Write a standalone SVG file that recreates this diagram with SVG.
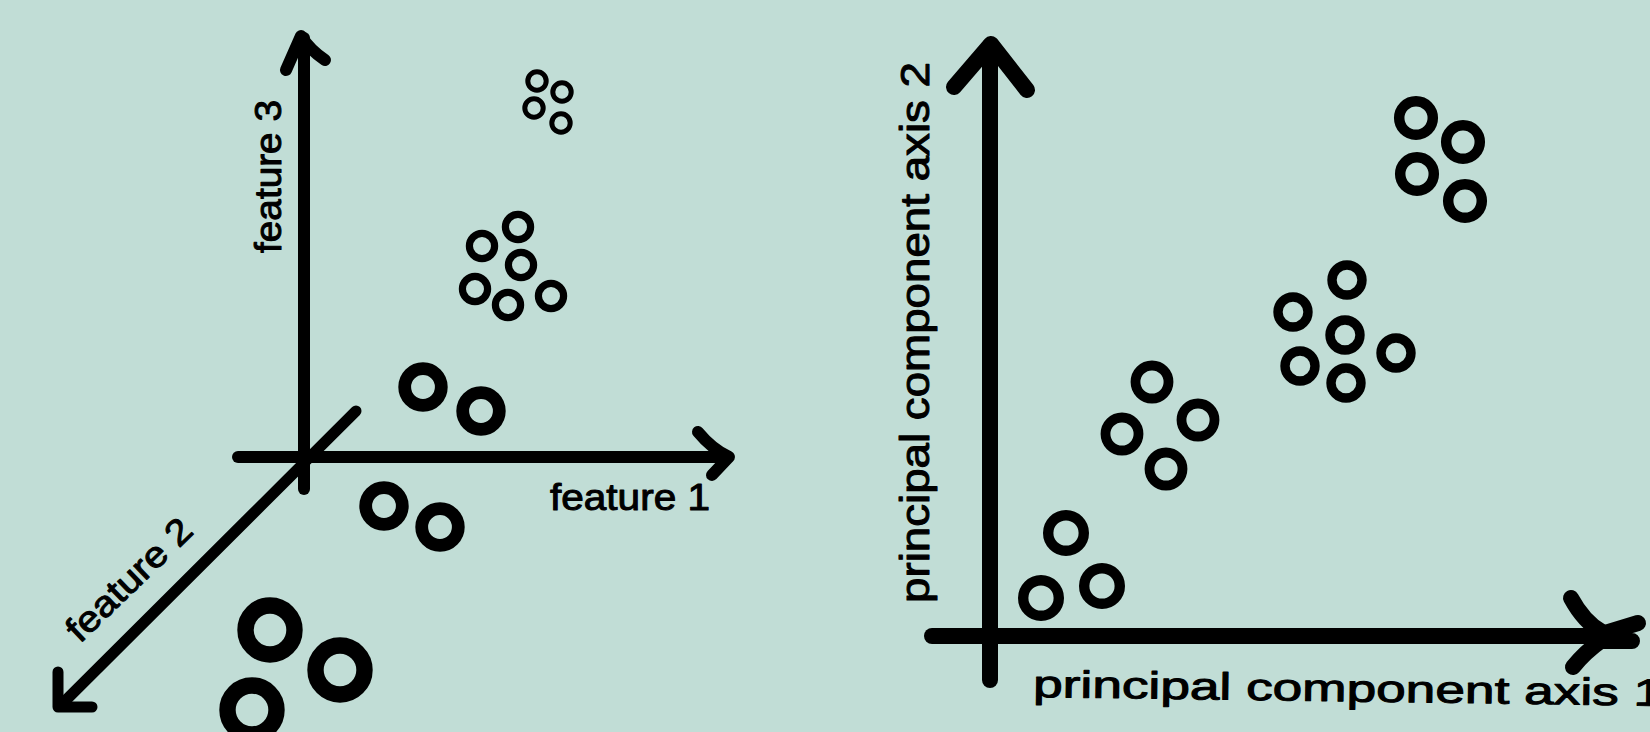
<svg xmlns="http://www.w3.org/2000/svg" width="1650" height="732" viewBox="0 0 1650 732">
<style>
.ax{fill:none;stroke:#000;stroke-linecap:round;stroke-linejoin:round}
.p{fill:none;stroke:#000}
.lbl{font-family:"Liberation Sans",Arial,sans-serif;font-weight:normal;fill:#000;stroke:#000;stroke-width:1;stroke-linejoin:round}
</style>
<rect width="1650" height="732" fill="#c1ddd6"/>
<g id="connectors">
  <g id="left-axes" class="ax" stroke-width="12">
    <path d="M304,38 V489"/>
    <path d="M286,70 L301,36 Q310,50 325,60"/>
    <path d="M238,457 H728"/>
    <path d="M698,432 Q712,449 729,457 L712,475"/>
    <path d="M356,411 L60,706" stroke-width="11"/>
    <path d="M58,672 V707 H92" stroke-width="11"/>
  </g>
  <g id="right-axes" class="ax" stroke-width="16">
    <path d="M990,46 V680"/>
    <path d="M954,87 L991,44 L1027,90"/>
    <path d="M932,636 H1600"/>
    <path d="M1571,598 Q1584,622 1602,632 M1602,640 Q1585,652 1573,667"/>
    <path d="M1602,634 L1638,623 M1602,641 L1632,641"/>
  </g>
</g>
<g id="left-points">
  <g id="cluster-xs" class="p" stroke-width="5">
    <circle cx="537" cy="81" r="9.2"/><circle cx="562" cy="92" r="9.2"/>
    <circle cx="534" cy="108" r="9.2"/><circle cx="561" cy="123" r="9.2"/>
  </g>
  <g id="cluster-s" class="p" stroke-width="7.2">
    <circle cx="518" cy="227" r="12.6"/><circle cx="482" cy="246" r="12.6"/>
    <circle cx="521" cy="265" r="12.6"/><circle cx="475" cy="289" r="12.6"/>
    <circle cx="508" cy="305" r="12.6"/><circle cx="551" cy="296" r="12.6"/>
  </g>
  <g id="cluster-m" class="p" stroke-width="12.8">
    <circle cx="423" cy="387" r="18.3"/><circle cx="481" cy="411" r="18.3"/>
    <circle cx="384" cy="506" r="18.3"/><circle cx="440" cy="527" r="18.3"/>
  </g>
  <g id="cluster-l" class="p" stroke-width="16.4">
    <circle cx="270" cy="630" r="24.5"/><circle cx="340" cy="670" r="24.5"/>
    <circle cx="252" cy="710" r="24.5"/>
  </g>
</g>
<g id="right-points">
  <g id="cluster-r1" class="p" stroke-width="10.4">
    <circle cx="1066" cy="533" r="17.8"/><circle cx="1102" cy="586" r="17.8"/>
    <circle cx="1041" cy="598" r="17.8"/>
  </g>
  <g id="cluster-r2" class="p" stroke-width="9.8">
    <circle cx="1152" cy="382" r="16.5"/><circle cx="1198" cy="420" r="16.5"/>
    <circle cx="1122" cy="434" r="16.5"/><circle cx="1166" cy="469" r="16.5"/>
  </g>
  <g id="cluster-r3" class="p" stroke-width="9.4">
    <circle cx="1347" cy="280" r="15"/><circle cx="1293" cy="312" r="15"/>
    <circle cx="1345" cy="335" r="15"/><circle cx="1396" cy="353" r="15"/>
    <circle cx="1300" cy="366" r="15"/><circle cx="1346" cy="383" r="15"/>
  </g>
  <g id="cluster-r4" class="p" stroke-width="10.5">
    <circle cx="1416" cy="118" r="16.8"/><circle cx="1463" cy="142" r="16.8"/>
    <circle cx="1417" cy="174" r="16.8"/><circle cx="1465" cy="201" r="16.8"/>
  </g>
</g>
<g id="labels">
  <text id="feature-3" class="lbl" font-size="36" transform="translate(281,253) rotate(-90)" textLength="153" lengthAdjust="spacingAndGlyphs">feature 3</text>
  <text id="feature-1" class="lbl" font-size="36" x="550" y="510" textLength="160" lengthAdjust="spacingAndGlyphs">feature 1</text>
  <text id="feature-2" class="lbl" font-size="36" transform="translate(80,644) rotate(-44)" textLength="160" lengthAdjust="spacingAndGlyphs">feature 2</text>
  <text id="pc-axis-2" class="lbl" font-size="40" transform="translate(929,603) rotate(-90)" textLength="541" lengthAdjust="spacingAndGlyphs">principal component axis 2</text>
  <text id="pc-axis-1" class="lbl" font-size="38" transform="translate(1033,697) rotate(0.8)" textLength="630" lengthAdjust="spacingAndGlyphs">principal component axis 1</text>
</g>
</svg>
